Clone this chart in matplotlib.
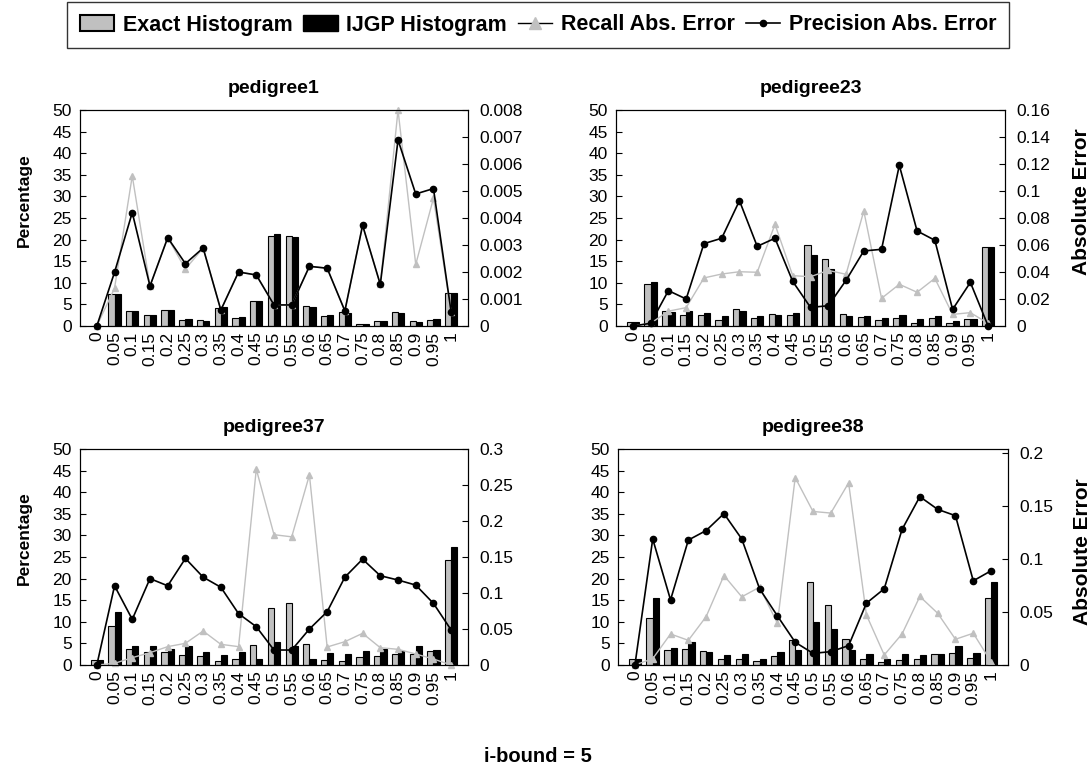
import numpy as np
import matplotlib
matplotlib.use('Agg')
from matplotlib import pyplot as plt
from matplotlib.lines import Line2D
from matplotlib.patches import Patch
from matplotlib.ticker import FuncFormatter, MultipleLocator

plt.rcParams['font.family'] = ['Liberation Sans', 'DejaVu Sans']

bins = ['0', '0.05', '0.1', '0.15', '0.2', '0.25', '0.3', '0.35', '0.4', '0.45', '0.5',
        '0.55', '0.6', '0.65', '0.7', '0.75', '0.8', '0.85', '0.9', '0.95', '1']

titles = ['pedigree1', 'pedigree23', 'pedigree37', 'pedigree38']

# pedigree1
p1_exact = [0, 7.3, 3.4, 2.5, 3.8, 1.5, 1.5, 4.1, 1.8, 5.8, 20.9, 20.9, 4.6, 2.4, 3.2, 0.5, 1.2, 3.2, 1.1, 1.4, 7.6]
p1_ijgp = [0, 7.3, 3.4, 2.5, 3.8, 1.7, 1.2, 4.3, 2.0, 5.7, 21.2, 20.7, 4.4, 2.5, 3.1, 0.5, 1.2, 3.0, 0.9, 1.7, 7.6]
p1_recall = [0, 0.0014, 0.00556, 0.00148, 0.00327, 0.00211, 0.00289, 0.00059, 0.0020, 0.00189, 0.00078,
             0.00078, 0.00221, 0.00214, 0.00056, 0.00373, 0.00154, 0.0080, 0.00228, 0.00473, 0.00051]
p1_precision = [0, 0.00199, 0.0042, 0.00148, 0.00327, 0.00231, 0.00289, 0.00059, 0.0020, 0.00189, 0.00078,
                0.00078, 0.00221, 0.00214, 0.00056, 0.00373, 0.00154, 0.00689, 0.00489, 0.00509, 0.00051]

# pedigree23
p23_exact = [0.85, 9.8, 3.5, 2.5, 2.5, 1.5, 3.9, 1.8, 2.8, 2.5, 18.8, 15.6, 2.7, 2.0, 1.5, 1.8, 0.7, 1.8, 0.7, 1.6, 18.4]
p23_ijgp = [0.85, 10.1, 3.2, 3.5, 2.9, 2.2, 3.5, 2.2, 2.5, 2.9, 16.5, 13.1, 2.3, 2.3, 1.8, 2.5, 1.6, 2.2, 1.1, 1.6, 18.3]
p23_recall = [0, 0.002, 0.011, 0.0136, 0.0356, 0.0385, 0.0402, 0.0398, 0.0753, 0.0373, 0.0365,
              0.0412, 0.0383, 0.0852, 0.0205, 0.0309, 0.025, 0.0353, 0.0086, 0.0099, 0.002]
p23_precision = [0, 0.002, 0.0262, 0.020, 0.061, 0.065, 0.0928, 0.059, 0.065, 0.033, 0.0138,
                 0.015, 0.0338, 0.0556, 0.0568, 0.119, 0.0704, 0.0635, 0.0123, 0.0323, 0]

# pedigree37
p37_exact = [1.2, 9.0, 3.7, 2.9, 2.9, 2.2, 2.0, 0.9, 1.4, 4.6, 13.3, 14.3, 4.8, 1.2, 0.9, 1.9, 2.0, 2.5, 2.5, 3.2, 24.2]
p37_ijgp = [1.2, 12.2, 4.4, 4.4, 3.7, 4.4, 3.0, 2.3, 2.9, 1.5, 5.3, 4.4, 1.5, 2.7, 2.5, 3.3, 3.7, 3.2, 4.5, 3.4, 27.3]
p37_recall = [0, 0.0023, 0.0102, 0.0171, 0.0255, 0.0301, 0.0472, 0.0287, 0.0255, 0.272, 0.181,
              0.178, 0.264, 0.025, 0.0324, 0.044, 0.024, 0.0218, 0.0153, 0.0083, 0]
p37_precision = [0, 0.110, 0.0634, 0.120, 0.110, 0.148, 0.122, 0.108, 0.0713, 0.0532, 0.0208,
                 0.0208, 0.050, 0.074, 0.122, 0.147, 0.124, 0.118, 0.111, 0.0856, 0.0486]

# pedigree38
p38_exact = [1.5, 10.8, 3.5, 3.6, 3.2, 1.4, 1.4, 0.9, 2.1, 5.8, 19.3, 13.8, 6.1, 1.5, 0.8, 1.2, 1.4, 2.5, 2.8, 1.7, 15.4]
p38_ijgp = [1.5, 15.5, 3.9, 5.3, 2.9, 2.3, 2.5, 1.4, 3.0, 3.5, 10.0, 8.3, 3.5, 2.6, 1.4, 2.5, 2.3, 2.5, 4.3, 2.8, 19.2]
p38_recall = [0, 0.006, 0.0293, 0.0233, 0.0457, 0.0845, 0.0644, 0.0735, 0.0394, 0.177, 0.145,
              0.1435, 0.172, 0.0473, 0.0095, 0.0293, 0.0647, 0.0489, 0.0243, 0.030, 0.003]
p38_precision = [0, 0.119, 0.0615, 0.118, 0.127, 0.143, 0.119, 0.072, 0.0464, 0.0215, 0.011,
                 0.0126, 0.0183, 0.0584, 0.072, 0.128, 0.159, 0.147, 0.141, 0.0795, 0.089]

exact = [p1_exact, p23_exact, p37_exact, p38_exact]
ijgp = [p1_ijgp, p23_ijgp, p37_ijgp, p38_ijgp]
recall = [p1_recall, p23_recall, p37_recall, p38_recall]
precision = [p1_precision, p23_precision, p37_precision, p38_precision]
err_max = [0.008, 0.16, 0.3, 0.204]
err_step = [0.001, 0.02, 0.05, 0.05]

W, H = 1091, 769
fig = plt.figure(figsize=(W / 100, H / 100), dpi=100)

# axes boxes in pixels: left, top, right, bottom
boxes = [(80, 110, 468, 326), (616, 110, 1005, 326), (80, 449, 468, 665), (618, 449, 1008, 665)]
# where the y labels sit (axes coords), the original has them a bit off-centre
label_xy = [(-0.124, 0.583), (1.172, 0.574), (-0.124, 0.588), (1.167, 0.523)]

GRAY = '#c0c0c0'
x = np.arange(len(bins))
bw = 0.35
TICK = 12.5

for i in range(4):
    l, t, r, b = boxes[i]
    ax = fig.add_axes([l / W, 1 - b / H, (r - l) / W, (b - t) / H])
    ax.bar(x - bw / 2, exact[i], bw, color=GRAY, edgecolor='black', linewidth=0.8)
    ax.bar(x + bw / 2, ijgp[i], bw, color='black', edgecolor='black', linewidth=0.8)
    ax.set_xlim(-0.95, 20.95)
    ax.set_ylim(0, 50)
    ax.yaxis.set_major_locator(MultipleLocator(5))
    ax.set_xticks(x)
    ax.set_xticklabels(bins, rotation=90)
    ax.tick_params(axis='x', length=0, labelsize=TICK, pad=4)
    ax.tick_params(axis='y', direction='in', length=4, labelsize=TICK, pad=6)
    ax.set_title(titles[i], fontsize=14, fontweight='bold', pad=12)
    if i % 2 == 0:
        ax.set_ylabel('Percentage', fontsize=12.5, fontweight='bold')
        ax.yaxis.set_label_coords(*label_xy[i])

    ax2 = ax.twinx()
    ax2.plot(x, recall[i], color=GRAY, lw=1.0, marker='^', ms=4, mec=GRAY, mfc=GRAY, clip_on=False)
    ax2.plot(x, precision[i], color='black', lw=1.2, marker='o', ms=4.5, clip_on=False)
    ax2.set_ylim(0, err_max[i])
    ax2.yaxis.set_major_locator(MultipleLocator(err_step[i]))
    ax2.yaxis.set_major_formatter(FuncFormatter(lambda v, p: '%g' % round(v, 4)))
    ax2.tick_params(axis='y', direction='in', length=4, labelsize=TICK, pad=8)
    if i % 2 == 1:
        ax2.set_ylabel('Absolute Error', fontsize=15, fontweight='bold')
        ax2.yaxis.set_label_coords(*label_xy[i])

handles = [Patch(facecolor=GRAY, edgecolor='black', linewidth=1.5),
           Patch(facecolor='black', edgecolor='black'),
           Line2D([], [], color='black', lw=1, marker='^', ms=8, mfc=GRAY, mec=GRAY),
           Line2D([], [], color='black', lw=1.2, marker='o', ms=4.5)]
labels = ['Exact Histogram', 'IJGP Histogram', 'Recall Abs. Error', 'Precision Abs. Error']
leg = fig.legend(handles, labels, loc='center', bbox_to_anchor=(538 / W, 1 - 25 / H), ncol=4,
                 frameon=True, fancybox=False, edgecolor='black', handlelength=1.6,
                 handletextpad=0.4, columnspacing=0.5, borderpad=0.6,
                 prop={'weight': 'bold', 'size': 15.5})
leg.get_frame().set_linewidth(1.0)

fig.text(538 / W, 1 - 757 / H, 'i-bound = 5', ha='center', va='center', fontsize=14.5, fontweight='bold')

fig.savefig('out.png', dpi=100)
